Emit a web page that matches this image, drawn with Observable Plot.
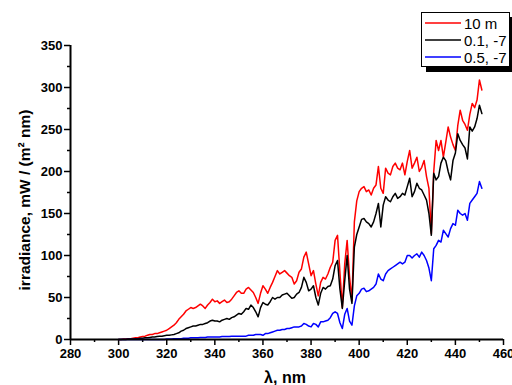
<!DOCTYPE html>
<html><head><meta charset="utf-8">
<script src="https://cdn.jsdelivr.net/npm/d3@7"></script>
<script src="https://cdn.jsdelivr.net/npm/@observablehq/plot@0.6"></script>
<style>
body{margin:0;background:#fff;}
#wrap{position:relative;width:512px;height:385px;font-family:"Liberation Sans",Arial,sans-serif;overflow:hidden;}
#legend{position:absolute;left:421px;top:12px;width:87px;height:53px;background:#fff;border:1px solid #000;box-shadow:5px 5px 0 #000;}
.lrow{position:absolute;left:3px;height:16px;display:flex;align-items:center;font-size:15px;color:#000;white-space:nowrap;}
.lrow svg{margin-right:3px;}
.title{position:absolute;font-weight:bold;color:#000;text-align:center;white-space:nowrap;}
#xtitle{left:185px;top:370px;width:200px;height:16px;line-height:16px;font-size:16px;}
#ytitle{left:-105px;top:191px;width:260px;height:18px;line-height:18px;font-size:15.5px;transform:rotate(-90deg);transform-origin:50% 50%;}
</style></head>
<body>
<div id="wrap"><div id="chart"></div><div id="legend"></div><div id="xtitle" class="title"></div><div id="ytitle" class="title"></div></div>
<script>
// wavelengths, nm (1 nm step)
const wavelengths = d3.range(300, 452);
const seriesNames = ["10 m", "0.1, -7", "0.5, -7"];
const seriesColors = ["#ff0000", "#000000", "#0000ff"];
const xTitle = "λ, nm";
const yTitle = "irradiance, mW / (m² nm)";
const red10m = [
0,0,0.5,0.5,1,1,1.5,2,2,3, 3.5,4,5,6,6,7,7,8,9,10,
11,13,15,17,20,24,27,30,34,36, 38,37,38,40,42,40,37,41,44,48,
45,46,43,45,47,44,45,48,52,56, 58,55,55,60,62,59,56,50,43,55,
64,60,55,62,68,75,82,78,80,82, 79,76,74,66,70,80,84,98,104,90,
76,82,66,52,68,74,72,78,86,92, 118,124,80,38,90,118,75,46,140,165,
176,180,182,176,178,172,180,184,206,180, 174,204,198,196,206,210,204,202,210,196,
212,225,204,210,217,200,205,213,194,180, 126,200,237,225,237,217,235,253,241,232,
225,255,273,261,256,249,268,281,276,285, 309,297];
const black01 = [
0,0,0,0,0.5,0.5,0.5,1,1,1.5, 1.5,2,2,2.5,3,3,3.5,4,4,4.5,
5,5,5.5,6,7,8,10,11,13,14, 15,16,16,17,18,18,19,20,22,23,
22,22,21,23,24,25,24,26,27,29, 31,30,33,37,36,41,38,33,27,38,
44,42,41,45,50,48,50,50,53,54, 55,52,49,50,54,56,62,74,68,58,
60,64,50,41,55,62,60,63,64,72, 88,94,60,37,70,100,60,43,110,125,
134,143,144,140,138,134,140,150,162,134, 160,170,166,164,170,174,168,170,174,172,
182,192,170,176,186,180,178,172,166,150, 124,198,190,194,210,217,213,200,190,213,
222,245,237,232,228,215,253,248,253,263, 279,269];
const blue05 = [
0,0,0,0,0,0,0,0,0,0, 0,0,0,0,0,0,0,0,0,0,
0.5,0.5,0.5,1,1,1,1,1.5,1.5,1.5, 2,2,2,2,2.5,2.5,2.5,3,3,3,
3,3,3,3.5,3.5,3.5,3.5,4,4,4, 4,4,4,4,5,5,5,6,6,6,
5,7,7,8,9,10,11,11,12,12, 13,13,14,15,15,15,16,19,18,16,
15,19,18,15,21,21,22,23,26,31, 33,31,20,13,30,37,22,17,40,52,
55,60,61,57,58,60,62,66,78,72, 70,78,82,84,86,88,90,92,90,92,
100,100,97,100,102,98,104,100,94,85, 70,108,112,118,116,130,126,122,132,138,
136,154,150,148,150,142,162,166,170,174, 188,180];
const xMajor = [280,300,320,340,360,380,400,420,440,460];
const xMinor = [290,310,330,350,370,390,410,430,450];
const yMajor = [0,50,100,150,200,250,300,350];
const yMinor = [25,75,125,175,225,275,325];

const seriesValues = [red10m, black01, blue05];
const rows = [];
seriesValues.forEach((vals, s) => vals.forEach((v, i) => rows.push({nm: wavelengths[i], value: v, series: seriesNames[s]})));

const chart = Plot.plot({
  width: 512, height: 385,
  marginLeft: 70, marginRight: 9, marginTop: 45, marginBottom: 46,
  style: {fontFamily: "'Liberation Sans', Arial, sans-serif", fontSize: "13px", fontWeight: "bold", color: "#000", background: "#fff"},
  x: {domain: [280, 460], label: null},
  y: {domain: [0, 350], label: null},
  color: {domain: seriesNames, range: seriesColors},
  marks: [
    Plot.axisX(xMinor, {tickSize: 3, tickFormat: () => "", label: null, strokeWidth: 1.5}),
    Plot.axisX(xMajor, {tickSize: 6, tickPadding: 3, strokeWidth: 1.5, label: null}),
    Plot.axisY(yMinor, {tickSize: 3, tickFormat: () => "", label: null, strokeWidth: 1.5}),
    Plot.axisY(yMajor, {tickSize: 6, tickPadding: 2, strokeWidth: 1.5, label: null}),
    Plot.lineY(rows, {x: "nm", y: "value", z: "series", stroke: "series", strokeWidth: 1.5}),
    Plot.ruleX([280], {strokeWidth: 2}),
    Plot.ruleY([0], {strokeWidth: 2})
  ]
});
document.getElementById("chart").appendChild(chart);
document.getElementById("xtitle").textContent = xTitle;
document.getElementById("ytitle").textContent = yTitle;

const legend = document.getElementById("legend");
seriesNames.forEach((name, i) => {
  const row = document.createElement("div");
  row.className = "lrow";
  row.style.top = (2 + i * 17) + "px";
  row.innerHTML = `<svg width="36" height="4"><line x1="0" x2="36" y1="2" y2="2" stroke="${seriesColors[i]}" stroke-width="1.5"/></svg><span>${name}</span>`;
  legend.appendChild(row);
});
</script>
</body></html>
